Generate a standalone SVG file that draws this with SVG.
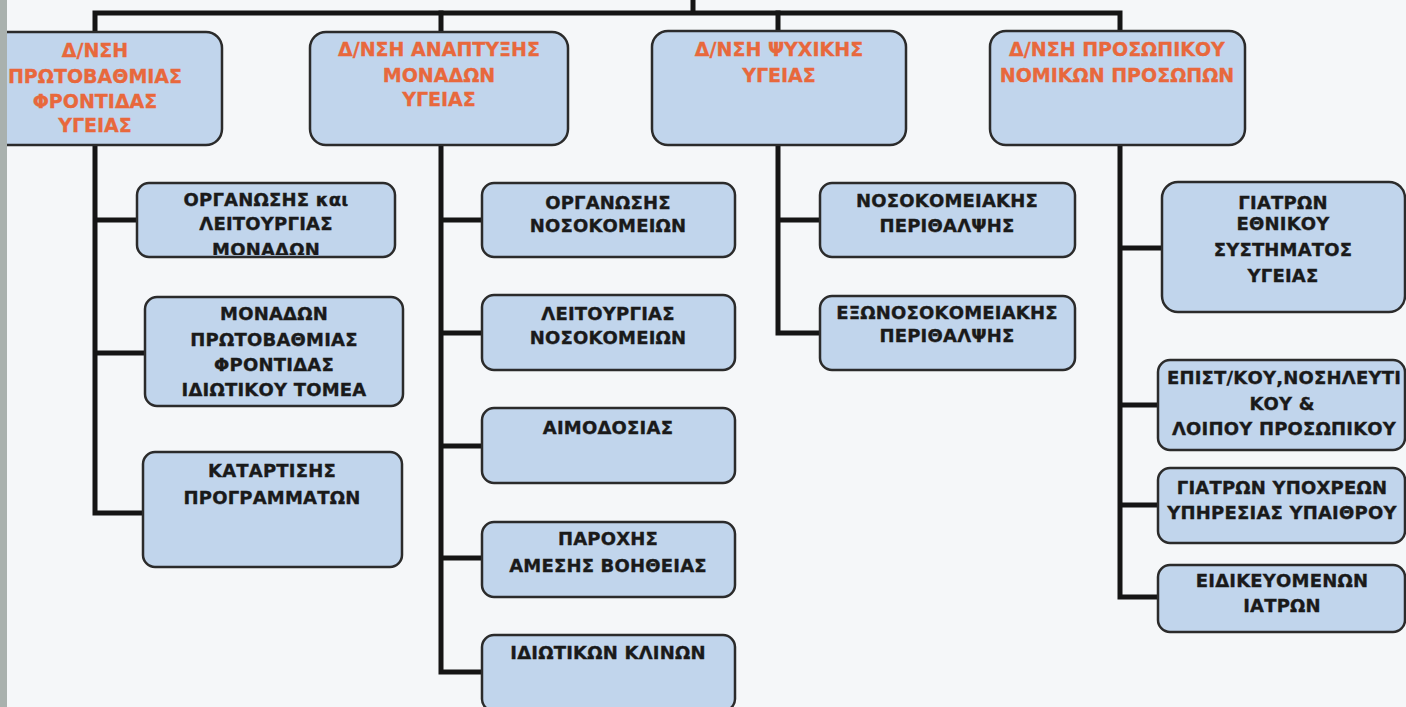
<svg xmlns="http://www.w3.org/2000/svg" width="1406" height="707" viewBox="0 0 1406 707">
  <style>
    .bg { fill: #f5f7f9; }
    .wire { fill: none; stroke: #151515; stroke-width: 5; stroke-linecap: square; }
    .box { fill: #c1d5ec; stroke: #2b2b2b; stroke-width: 2.5; }
    .head { font-family: "DejaVu Sans", "Liberation Sans", sans-serif; font-weight: bold; font-size: 19px; fill: #e8683c; stroke: #e8683c; stroke-width: 0.3; text-anchor: middle; }
    .lbl { font-family: "DejaVu Sans", "Liberation Sans", sans-serif; font-weight: bold; font-size: 18px; letter-spacing: 0.2px; fill: #1a1a1a; stroke: #1a1a1a; stroke-width: 0.35; text-anchor: middle; }
  </style>
  <defs>
    <clipPath id="clip-org-units">
      <rect x="138" y="184" width="256" height="71" rx="11"/>
    </clipPath>
  </defs>

  <rect class="bg" x="0" y="0" width="1406" height="707"/>

  <!-- connectors -->
  <g id="connectors">
    <path class="wire" d="M693 0 V13 M95 32 V13 H1120 V31"/>
    <path class="wire" d="M441 13 V32 M778 13 V31"/>
    <!-- primary care branch -->
    <path class="wire" d="M95 145 V513 H143 M95 220 H137 M95 353 H145"/>
    <!-- health units development branch -->
    <path class="wire" d="M441 145 V672 H482 M441 220 H482 M441 333 H482 M441 446 H482 M441 558 H482"/>
    <!-- mental health branch -->
    <path class="wire" d="M778 145 V333 H820 M778 220 H820"/>
    <!-- personnel branch -->
    <path class="wire" d="M1120 145 V597 H1158 M1120 248 H1162 M1120 405 H1158 M1120 505 H1158"/>
  </g>

  <!-- top-level directorates -->
  <g id="dir-primary-care">
    <rect class="box" x="-32" y="32" width="254" height="113" rx="16"/>
    <text class="head" x="95" y="57">Δ/ΝΣΗ</text>
    <text class="head" x="95" y="83">ΠΡΩΤΟΒΑΘΜΙΑΣ</text>
    <text class="head" x="95" y="108">ΦΡΟΝΤΙΔΑΣ</text>
    <text class="head" x="95" y="132">ΥΓΕΙΑΣ</text>
  </g>
  <g id="dir-units-development">
    <rect class="box" x="310" y="32" width="258" height="113" rx="16"/>
    <text class="head" x="439" y="56">Δ/ΝΣΗ ΑΝΑΠΤΥΞΗΣ</text>
    <text class="head" x="439" y="82">ΜΟΝΑΔΩΝ</text>
    <text class="head" x="439" y="106">ΥΓΕΙΑΣ</text>
  </g>
  <g id="dir-mental-health">
    <rect class="box" x="652" y="31" width="254" height="114" rx="16"/>
    <text class="head" x="779" y="56">Δ/ΝΣΗ ΨΥΧΙΚΗΣ</text>
    <text class="head" x="779" y="82">ΥΓΕΙΑΣ</text>
  </g>
  <g id="dir-legal-entities-staff">
    <rect class="box" x="990" y="31" width="255" height="114" rx="16"/>
    <text class="head" x="1117" y="56">Δ/ΝΣΗ ΠΡΟΣΩΠΙΚΟΥ</text>
    <text class="head" x="1117" y="82">ΝΟΜΙΚΩΝ ΠΡΟΣΩΠΩΝ</text>
  </g>

  <!-- primary care departments -->
  <g id="dep-org-units">
    <rect class="box" x="137" y="183" width="258" height="74" rx="12"/>
    <g clip-path="url(#clip-org-units)">
      <text class="lbl" x="266" y="206">ΟΡΓΑΝΩΣΗΣ και</text>
      <text class="lbl" x="266" y="230">ΛΕΙΤΟΥΡΓΙΑΣ</text>
      <text class="lbl" x="266" y="255.5">ΜΟΝΑΔΩΝ</text>
    </g>
  </g>
  <g id="dep-private-primary">
    <rect class="box" x="145" y="297" width="258" height="109" rx="12"/>
    <text class="lbl" x="274" y="320">ΜΟΝΑΔΩΝ</text>
    <text class="lbl" x="274" y="346">ΠΡΩΤΟΒΑΘΜΙΑΣ</text>
    <text class="lbl" x="274" y="371">ΦΡΟΝΤΙΔΑΣ</text>
    <text class="lbl" x="274" y="396">ΙΔΙΩΤΙΚΟΥ ΤΟΜΕΑ</text>
  </g>
  <g id="dep-training">
    <rect class="box" x="143" y="452" width="259" height="115" rx="12"/>
    <text class="lbl" x="272" y="477">ΚΑΤΑΡΤΙΣΗΣ</text>
    <text class="lbl" x="272" y="504">ΠΡΟΓΡΑΜΜΑΤΩΝ</text>
  </g>

  <!-- health units development departments -->
  <g id="dep-hospital-org">
    <rect class="box" x="482" y="183" width="253" height="74" rx="12"/>
    <text class="lbl" x="608" y="209">ΟΡΓΑΝΩΣΗΣ</text>
    <text class="lbl" x="608" y="232">ΝΟΣΟΚΟΜΕΙΩΝ</text>
  </g>
  <g id="dep-hospital-operation">
    <rect class="box" x="482" y="295" width="253" height="75" rx="12"/>
    <text class="lbl" x="608" y="320">ΛΕΙΤΟΥΡΓΙΑΣ</text>
    <text class="lbl" x="608" y="344">ΝΟΣΟΚΟΜΕΙΩΝ</text>
  </g>
  <g id="dep-blood-donation">
    <rect class="box" x="482" y="408" width="253" height="75" rx="12"/>
    <text class="lbl" x="608" y="434">ΑΙΜΟΔΟΣΙΑΣ</text>
  </g>
  <g id="dep-emergency-aid">
    <rect class="box" x="482" y="522" width="253" height="75" rx="12"/>
    <text class="lbl" x="608" y="545">ΠΑΡΟΧΗΣ</text>
    <text class="lbl" x="608" y="572">ΑΜΕΣΗΣ ΒΟΗΘΕΙΑΣ</text>
  </g>
  <g id="dep-private-beds">
    <rect class="box" x="482" y="635" width="253" height="76" rx="12"/>
    <text class="lbl" x="608" y="659">ΙΔΙΩΤΙΚΩΝ ΚΛΙΝΩΝ</text>
  </g>

  <!-- mental health departments -->
  <g id="dep-inpatient-care">
    <rect class="box" x="820" y="183" width="255" height="74" rx="12"/>
    <text class="lbl" x="947" y="207">ΝΟΣΟΚΟΜΕΙΑΚΗΣ</text>
    <text class="lbl" x="947" y="232">ΠΕΡΙΘΑΛΨΗΣ</text>
  </g>
  <g id="dep-outpatient-care">
    <rect class="box" x="820" y="296" width="255" height="74" rx="12"/>
    <text class="lbl" x="947" y="319">ΕΞΩΝΟΣΟΚΟΜΕΙΑΚΗΣ</text>
    <text class="lbl" x="947" y="342">ΠΕΡΙΘΑΛΨΗΣ</text>
  </g>

  <!-- personnel departments -->
  <g id="dep-nhs-doctors">
    <rect class="box" x="1162" y="182" width="243" height="130" rx="16"/>
    <text class="lbl" x="1283" y="209">ΓΙΑΤΡΩΝ</text>
    <text class="lbl" x="1283" y="230">ΕΘΝΙΚΟΥ</text>
    <text class="lbl" x="1283" y="256">ΣΥΣΤΗΜΑΤΟΣ</text>
    <text class="lbl" x="1283" y="282">ΥΓΕΙΑΣ</text>
  </g>
  <g id="dep-scientific-nursing">
    <rect class="box" x="1158" y="360" width="247" height="90" rx="12"/>
    <text class="lbl" x="1284" y="384" letter-spacing="-0.4">ΕΠΙΣΤ/ΚΟΥ,ΝΟΣΗΛΕΥΤΙ</text>
    <text class="lbl" x="1282" y="410">ΚΟΥ &amp;</text>
    <text class="lbl" x="1284" y="435" letter-spacing="0">ΛΟΙΠΟΥ ΠΡΟΣΩΠΙΚΟΥ</text>
  </g>
  <g id="dep-rural-service">
    <rect class="box" x="1158" y="468" width="247" height="75" rx="12"/>
    <text class="lbl" x="1282" y="494">ΓΙΑΤΡΩΝ ΥΠΟΧΡΕΩΝ</text>
    <text class="lbl" x="1282" y="519" letter-spacing="0">ΥΠΗΡΕΣΙΑΣ ΥΠΑΙΘΡΟΥ</text>
  </g>
  <g id="dep-residents">
    <rect class="box" x="1158" y="565" width="247" height="67" rx="12"/>
    <text class="lbl" x="1282" y="587">ΕΙΔΙΚΕΥΟΜΕΝΩΝ</text>
    <text class="lbl" x="1282" y="612">ΙΑΤΡΩΝ</text>
  </g>

  <!-- scanner edge strip -->
  <rect x="0" y="0" width="7" height="707" fill="#a9b1ae"/>
</svg>
